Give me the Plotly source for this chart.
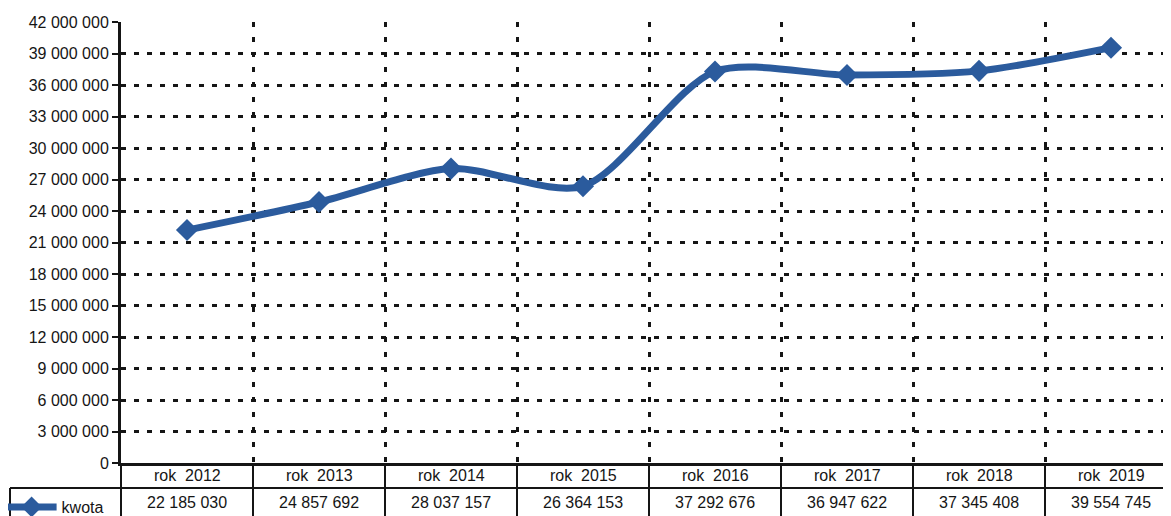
import plotly.graph_objects as go

# data
lata = ["rok  2012", "rok  2013", "rok  2014", "rok  2015",
        "rok  2016", "rok  2017", "rok  2018", "rok  2019"]
kwota = [22185030, 24857692, 28037157, 26364153,
         37292676, 36947622, 37345408, 39554745]
y_ticks = list(range(0, 42000001, 3000000))

# page is drawn with an 8px body margin, so work in page pixels minus that
OFF = 8
W, H = 1171 - OFF, 516 - OFF
m_l, m_r, m_t, m_b = 121 - OFF, 0, 22 - OFF, 516 - 463
plot_w = W - m_l - m_r
plot_h = H - m_t - m_b
cat_px = 132
x_min = -0.5
x_max = x_min + plot_w / cat_px


def px_x(xv):
    # data x -> paper x
    return (xv - x_min) / (x_max - x_min)


def py(px_below):
    # pixels below the x axis -> paper y
    return -px_below / plot_h


blue = "#2b5b9d"
ink = "#151515"
font = "Liberation Sans, Arial, sans-serif"

x_pos = list(range(len(lata)))

fig = go.Figure()
fig.add_trace(go.Scatter(
    x=x_pos, y=kwota, name="kwota",
    mode="lines+markers",
    line=dict(color=blue, width=7, shape="spline", smoothing=0.8),
    marker=dict(symbol="diamond", size=17, color=blue),
    cliponaxis=False,
))

shapes = []
annotations = []
# table lines
row1, row2, row3 = 0, 25, 60
for i in range(len(lata) + 1):
    xb = px_x(i - 0.5)
    if xb > 1.001:
        continue
    shapes.append(dict(type="line", xref="paper", yref="paper",
                       x0=xb, x1=xb, y0=py(row1), y1=py(row3),
                       line=dict(color=ink, width=2)))
shapes.append(dict(type="line", xref="paper", yref="paper",
                   x0=0, x1=1, y0=py(row2), y1=py(row2),
                   line=dict(color=ink, width=2)))
# legend cell
lx0 = (10 - OFF - m_l) / plot_w
shapes.append(dict(type="line", xref="paper", yref="paper",
                   x0=lx0, x1=0, y0=py(row2), y1=py(row2),
                   line=dict(color=ink, width=2)))
shapes.append(dict(type="line", xref="paper", yref="paper",
                   x0=lx0, x1=lx0, y0=py(row2), y1=py(row3),
                   line=dict(color=ink, width=2)))

for i, (lab, val) in enumerate(zip(lata, kwota)):
    annotations.append(dict(
        x=i, y=0, xref="x", yref="paper", yanchor="middle", yshift=-12,
        text=lab.replace("  ", "\u00a0 "), showarrow=False,
        font=dict(family=font, size=16, color=ink)))
    annotations.append(dict(
        x=i, y=0, xref="x", yref="paper", yanchor="middle", yshift=-39,
        text=f"{val:,}".replace(",", " "), showarrow=False,
        font=dict(family=font, size=16, color=ink)))

fig.update_layout(
    width=W, height=H,
    margin=dict(l=m_l, r=m_r, t=m_t, b=m_b, autoexpand=False),
    paper_bgcolor="white", plot_bgcolor="white",
    separators=", ",
    font=dict(family=font, size=16, color=ink),
    showlegend=True,
    legend=dict(x=lx0 - 0.008, y=py(row2 + 2), xanchor="left", yanchor="top",
                bgcolor="rgba(0,0,0,0)", itemwidth=50, tracegroupgap=0,
                font=dict(family=font, size=16, color=ink)),
    shapes=shapes,
    annotations=annotations,
)
fig.update_xaxes(
    range=[x_min, x_max], automargin=False,
    tickvals=[i - 0.5 for i in range(len(lata) + 1)],
    showticklabels=False, ticks="",
    showgrid=True, gridcolor=ink, gridwidth=3, griddash="5px,10px",
    zeroline=False, showline=True, linecolor=ink, linewidth=3,
)
fig.update_yaxes(
    range=[0, 42000000], tickvals=y_ticks, tickformat=",d", automargin=False,
    showgrid=True, gridcolor=ink, gridwidth=3, griddash="5px,8px",
    zeroline=False, showline=True, linecolor=ink, linewidth=3,
    ticks="outside", ticklen=6, tickwidth=2, tickcolor=ink,
    tickfont=dict(family=font, size=16, color=ink),
)

fig.write_html("out.html")
